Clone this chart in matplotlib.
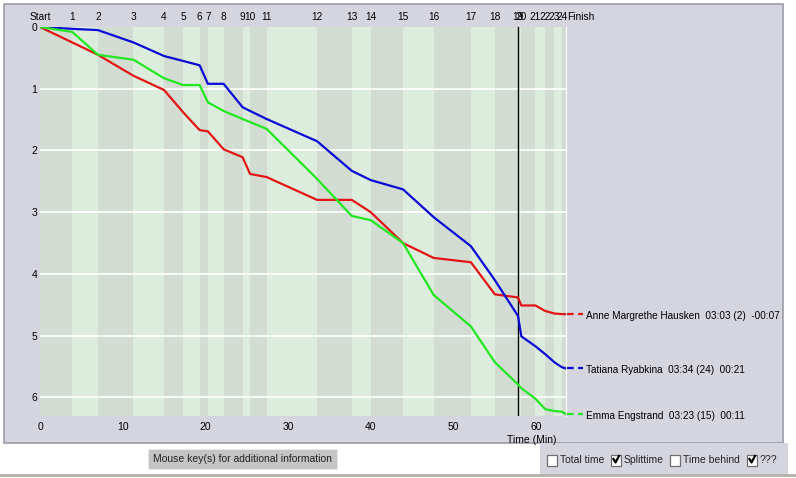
import matplotlib
matplotlib.use("Agg")
import matplotlib.pyplot as plt
from matplotlib.patches import Rectangle
from matplotlib.lines import Line2D
from matplotlib.transforms import blended_transform_factory

plt.rcParams["font.family"] = ["Liberation Sans", "DejaVu Sans"]

W, H = 796, 478

# control names and their (reference) time positions in minutes
CONTROLS = ["Start"] + [str(i) for i in range(1, 25)] + ["Finish"]
CONTROL_TIMES = [0, 3.9, 7.0, 11.3, 15.0, 17.3, 19.3, 20.3, 22.2, 24.5, 25.4, 27.4,
                 33.5, 37.7, 40.0, 43.9, 47.6, 52.1, 55.0, 57.8, 58.2, 59.9, 61.1,
                 62.2, 63.1, 63.6]

# time behind (min) at each control
RUNNERS = ["Anne Margrethe Hausken", "Tatiana Ryabkina", "Emma Engstrand"]
HAUSKEN = [0, 0.25, 0.45, 0.79, 1.02, 1.38, 1.67, 1.69, 1.98, 2.11, 2.38, 2.43,
           2.80, 2.80, 3.00, 3.50, 3.74, 3.81, 4.33, 4.38, 4.51, 4.51, 4.60, 4.64,
           4.65, 4.65]
RYABKINA = [0, 0.03, 0.05, 0.25, 0.47, 0.55, 0.62, 0.92, 0.92, 1.30, 1.36, 1.49,
            1.85, 2.33, 2.48, 2.63, 3.08, 3.55, 4.10, 4.68, 5.01, 5.17, 5.30, 5.43,
            5.51, 5.53]
ENGSTRAND = [0, 0.08, 0.45, 0.53, 0.83, 0.94, 0.94, 1.22, 1.36, 1.49, 1.54, 1.65,
             2.46, 3.06, 3.13, 3.50, 4.34, 4.85, 5.43, 5.79, 5.85, 6.02, 6.19, 6.22,
             6.23, 6.27]
SUMMARY = ["03:03 (2)  -00:07", "03:34 (24)  00:21", "03:23 (15)  00:11"]
COLORS = ["#e41414", "#0a0ad6", "#22e622"]

MARK_TIME = 57.8
X_TICKS = [0, 10, 20, 30, 40, 50, 60]
Y_TICKS = [0, 1, 2, 3, 4, 5, 6]
OPTIONS = ["Total time", "Splittime", "Time behind", "???"]
CHECKED = [False, True, False, True]

PANEL = "#d5d5df"
BAND_DARK = "#d3dcd3"
BAND_LIGHT = "#ddeddd"


def fx(px):
    return px / W


def fy(py):
    return 1 - py / H


fig = plt.figure(figsize=(W / 100, H / 100), dpi=100)
fig.patch.set_facecolor("white")

# main grey panel
fig.add_artist(Rectangle((fx(4), fy(443)), (783 - 4) / W, (443 - 4) / H,
                         transform=fig.transFigure, facecolor=PANEL,
                         edgecolor="#9c9ca6", lw=1.2, zorder=0))
# bottom-right option strip
fig.add_artist(Rectangle((fx(540), fy(475)), (788 - 540) / W, (475 - 443) / H,
                         transform=fig.transFigure, facecolor=PANEL,
                         edgecolor="none", zorder=0))
fig.add_artist(Line2D([0, 1], [fy(475), fy(475)], transform=fig.transFigure,
                      color="#b4b0a8", lw=2, zorder=1))

ax = fig.add_axes([fx(40), fy(416), (566 - 40) / W, (416 - 27) / H])
ax.set_facecolor(BAND_LIGHT)
for i in range(len(CONTROL_TIMES) - 1):
    ax.axvspan(CONTROL_TIMES[i], CONTROL_TIMES[i + 1], lw=0,
               color=BAND_DARK if i % 2 == 0 else BAND_LIGHT, zorder=0)
for y in Y_TICKS[1:]:
    ax.axhline(y, color="white", lw=1.2, zorder=1)
ax.axvline(MARK_TIME, color="black", lw=1, zorder=2)

for series, color in zip([HAUSKEN, RYABKINA, ENGSTRAND], COLORS):
    ax.plot(CONTROL_TIMES, series, color=color, lw=1.6, zorder=3,
            solid_joinstyle="round")

ax.set_xlim(0, CONTROL_TIMES[-1])
ax.set_ylim(6.3, 0)
ax.set_xticks(X_TICKS)
ax.set_yticks(Y_TICKS)
ax.tick_params(axis="x", length=0, labelsize=7.5, pad=4)
ax.tick_params(axis="y", length=0, labelsize=7.5, pad=2)
for s in ["top", "left", "bottom"]:
    ax.spines[s].set_visible(False)
ax.spines["right"].set_color("white")

# control labels along the top
trans = blended_transform_factory(ax.transData, ax.transAxes)
for name, t in zip(CONTROLS, CONTROL_TIMES):
    ha = "left" if name == "Finish" else "center"
    ax.text(t + (0.15 if name == "Finish" else 0), 1.026, name, transform=trans,
            ha=ha, va="center", fontsize=7.3, clip_on=False)

fig.text(fx(532), fy(440), "Time (Min)", ha="center", va="center", fontsize=7.5)

# runner labels on the right
for name, series, summary, color in zip(RUNNERS, [HAUSKEN, RYABKINA, ENGSTRAND],
                                        SUMMARY, COLORS):
    yfig = ax.transData.transform((CONTROL_TIMES[-1], series[-1]))[1] / H
    fig.add_artist(Line2D([fx(567), fx(583)], [yfig, yfig], transform=fig.transFigure,
                          color=color, lw=1.6, ls=(0, (3, 2))))
    fig.text(fx(586), yfig - 2 / H, f"{name}  {summary}", ha="left", va="center",
             fontsize=7.2)

# button
fig.add_artist(Rectangle((fx(148), fy(469)), (337 - 148) / W, (469 - 449) / H,
                         transform=fig.transFigure, facecolor="#c4c4c4",
                         edgecolor="#e8e8e8", lw=0.8))
fig.text(fx(242), fy(459), "Mouse key(s) for additional information",
         ha="center", va="center", fontsize=7.5, color="#222222")

# check boxes
BOX_X = [547, 611, 670, 747]
for bx, label, checked in zip(BOX_X, OPTIONS, CHECKED):
    fig.add_artist(Rectangle((fx(bx), fy(466)), 10 / W, 11 / H,
                             transform=fig.transFigure, facecolor="white",
                             edgecolor="#6e6e6e", lw=0.9))
    if checked:
        fig.add_artist(Line2D([fx(bx + 2.5), fx(bx + 4.5), fx(bx + 8)],
                              [fy(459), fy(462.5), fy(456)],
                              transform=fig.transFigure, color="black", lw=1.6))
    fig.text(fx(bx + 13), fy(460), label, ha="left", va="center", fontsize=7.5,
             color="#222222")

fig.savefig("out.png", dpi=100, facecolor=fig.get_facecolor())
